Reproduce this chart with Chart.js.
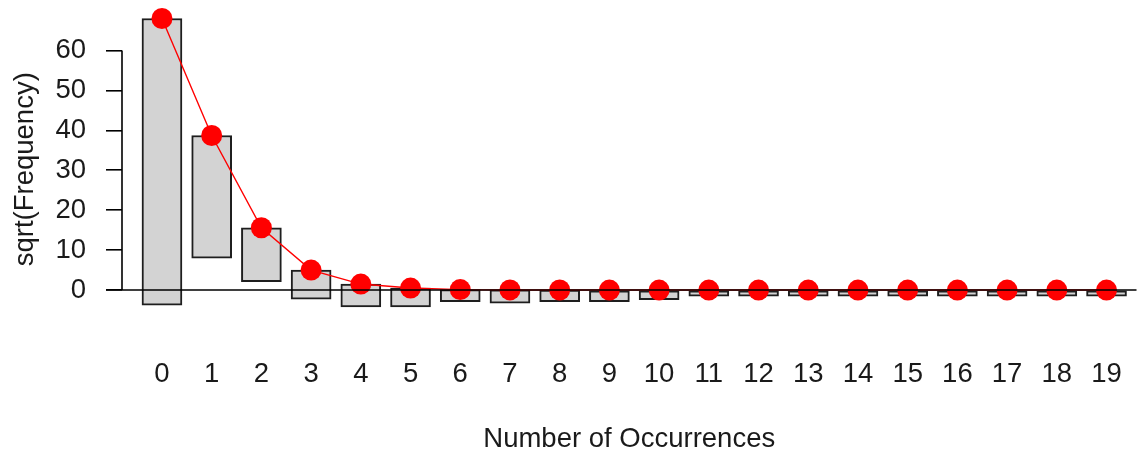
<!DOCTYPE html>
<html>
<head>
<meta charset="utf-8">
<title>Rootogram</title>
<script src="https://cdn.jsdelivr.net/npm/chart.js@4/dist/chart.umd.min.js"></script>
<style>
  html, body { margin: 0; padding: 0; background: #ffffff; }
  #wrap { width: 1147px; height: 457px; }
</style>
</head>
<body>
<div id="wrap"><canvas id="c" width="1147" height="457"></canvas></div>
<script>
// Counts 0..19
const occurrences = [0, 1, 2, 3, 4, 5, 6, 7, 8, 9, 10, 11, 12, 13, 14, 15, 16, 17, 18, 19];
const xTickLabels = ['0', '1', '2', '3', '4', '5', '6', '7', '8', '9', '10', '11', '12', '13', '14', '15', '16', '17', '18', '19'];
// Expected (fitted) values on the square-root scale
const fittedSqrt = [68.0, 38.7, 15.6, 5.0, 1.5, 0.5, 0.12, 0.03, 0.01, 0, 0, 0, 0, 0, 0, 0, 0, 0, 0, 0];
// Observed values on the square-root scale (bars hang down from the fitted curve)
const observedSqrt = [71.8, 30.7, 13.5, 7.3, 5.7, 4.7, 3.0, 3.3, 2.9, 2.9, 2.4, 1.5, 1.5, 1.5, 1.5, 1.5, 1.5, 1.5, 1.5, 1.5];
const yTickValues = [0, 10, 20, 30, 40, 50, 60];

const FONT = "'Liberation Sans', Arial, sans-serif";
const FONT_SIZE = 27.5;
const TEXT = '#1a1a1a';

const hangingBars = occurrences.map((k, i) => ({ x: k, y: [fittedSqrt[i] - observedSqrt[i], fittedSqrt[i]] }));
const fittedPoints = occurrences.map((k, i) => ({ x: k, y: fittedSqrt[i] }));

// Axis line (0..60 only) and the horizontal reference line at zero
const refLines = {
  id: 'refLines',
  afterDatasetsDraw(chart) {
    const { ctx, chartArea, scales } = chart;
    const y = scales.y;
    const ctop = y.getPixelForValue(yTickValues[yTickValues.length - 1]);
    const y0 = y.getPixelForValue(0);
    ctx.save();
    ctx.strokeStyle = '#000';
    ctx.lineWidth = 1.6;
    ctx.beginPath();
    ctx.moveTo(chartArea.left, ctop);
    ctx.lineTo(chartArea.left, y0);
    ctx.moveTo(chartArea.left - 16, y0);
    ctx.lineTo(chartArea.right, y0);
    ctx.stroke();
    ctx.restore();
  }
};

new Chart(document.getElementById('c'), {
  type: 'bar',
  data: {
    datasets: [
      {
        type: 'line',
        data: fittedPoints,
        borderColor: '#ff0000',
        borderWidth: 1.4,
        backgroundColor: '#ff0000',
        pointRadius: 10.5,
        pointBorderWidth: 0,
        pointBackgroundColor: '#ff0000',
        tension: 0,
        clip: false,
        order: 0
      },
      {
        type: 'bar',
        data: hangingBars,
        backgroundColor: '#d3d3d3',
        borderColor: '#1e1e1e',
        borderWidth: 2,
        borderSkipped: false,
        barThickness: 40,
        clip: false,
        order: 1
      }
    ]
  },
  options: {
    responsive: false,
    animation: false,
    devicePixelRatio: 1,
    layout: { padding: { top: 10, right: 10, left: 0, bottom: 0 } },
    plugins: { legend: { display: false }, tooltip: { enabled: false } },
    scales: {
      x: {
        type: 'linear',
        offset: false,
        min: -0.804,
        max: 19.603,
        afterBuildTicks(scale) { scale.ticks = occurrences.map(v => ({ value: v })); },
        afterFit(scale) {
          scale.height = 129;
          scale.paddingLeft = 0;
          scale.paddingRight = 0;
        },
        grid: { display: false, drawTicks: false },
        border: { display: false },
        ticks: {
          autoSkip: false,
          maxRotation: 0,
          padding: 30,
          color: TEXT,
          font: { family: FONT, size: FONT_SIZE },
          callback: (v) => xTickLabels[occurrences.indexOf(v)]
        },
        title: {
          display: true,
          text: 'Number of Occurrences',
          color: TEXT,
          font: { family: FONT, size: FONT_SIZE },
          padding: { top: 0, bottom: 1 }
        }
      },
      y: {
        type: 'linear',
        min: -9.5,
        max: 70,
        afterBuildTicks(scale) { scale.ticks = yTickValues.map(v => ({ value: v })); },
        afterFit(scale) {
          scale.width = 122;
          scale.paddingTop = 0;
          scale.paddingBottom = 0;
        },
        grid: {
          drawOnChartArea: false,
          drawTicks: true,
          tickLength: 16,
          color: '#000',
          lineWidth: 1.6
        },
        border: { display: false },
        ticks: {
          padding: 20,
          color: TEXT,
          font: { family: FONT, size: FONT_SIZE }
        },
        title: {
          display: true,
          text: 'sqrt(Frequency)',
          color: TEXT,
          font: { family: FONT, size: FONT_SIZE },
          padding: { top: 9, bottom: 0 }
        }
      }
    }
  },
  plugins: [refLines]
});
</script>
</body>
</html>
